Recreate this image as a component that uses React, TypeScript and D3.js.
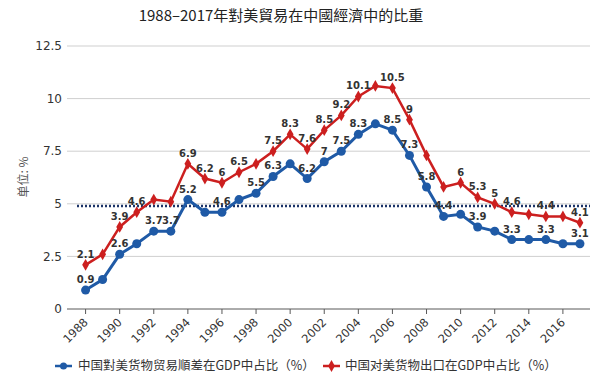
import React from 'react';
import * as d3 from 'd3';

const W = 600;
const H = 385;

const years = d3.range(1988, 2018);
// 中国對美货物贸易順差在GDP中占比
const surplus = [0.9, 1.4, 2.6, 3.1, 3.7, 3.7, 5.2, 4.6, 4.6, 5.2, 5.5, 6.3, 6.9, 6.2, 7, 7.5, 8.3, 8.8, 8.5, 7.3, 5.8, 4.4, 4.5, 3.9, 3.7, 3.3, 3.3, 3.3, 3.1, 3.1];
// 中国对美货物出口在GDP中占比
const exports = [2.1, 2.6, 3.9, 4.6, 5.2, 5.1, 6.9, 6.2, 6, 6.5, 6.9, 7.5, 8.3, 7.6, 8.5, 9.2, 10.1, 10.6, 10.5, 9, 7.3, 5.8, 6, 5.3, 5, 4.6, 4.5, 4.4, 4.4, 4.1];
const surplusLabelYears = [1988, 1990, 1992, 1993, 1994, 1996, 1998, 1999, 2001, 2002, 2003, 2004, 2006, 2007, 2008, 2009, 2011, 2013, 2015, 2017];
const exportLabelYears = [1988, 1990, 1991, 1994, 1995, 1996, 1997, 1999, 2000, 2001, 2002, 2003, 2004, 2006, 2007, 2010, 2011, 2012, 2013, 2015, 2017];
const yTicks = [0, 2.5, 5, 7.5, 10, 12.5];
const xTicks = d3.range(1988, 2017, 2);
const refLine = 4.9;

const BLUE = '#1f5aa6';
const RED = '#cc1f1f';
const NUM_FONT = '"DejaVu Sans", sans-serif';
const CJK_FONT = '"Noto Sans CJK SC", sans-serif';

const App = () => {
    const x = d3.scaleLinear().domain([1986.91, 2017.59]).range([67, 590]);
    const y = d3.scaleLinear().domain([0, 12.5]).range([309, 46]);

    const line = d3.line<number>()
        .x((_, i) => x(years[i]))
        .y(d => y(d));

    const diamond = d3.symbol().type(d3.symbolDiamond).size(40)();

    const labels = (vals: number[], ys: number[]) =>
        ys.map(yr => {
            const i = years.indexOf(yr);
            return (
                <text key={yr} x={x(yr)} y={y(vals[i]) - 7} textAnchor="middle"
                      fontFamily={NUM_FONT} fontSize={10} fontWeight="bold" fill="#333">
                    {String(vals[i])}
                </text>
            );
        });

    return (
        <svg width={W} height={H} style={{position: 'absolute', left: 0, top: 0, background: '#fff'}}>
            <text x={281} y={21} textAnchor="middle" fontFamily='"Noto Sans CJK TC", sans-serif'
                  fontSize={15} fill="#222">1988–2017年對美貿易在中國經濟中的比重</text>

            {/* grid + y labels */}
            {yTicks.map(t => (
                <g key={t}>
                    {t > 0 && <line x1={67} x2={590} y1={y(t)} y2={y(t)} stroke="#cfcfcf" strokeWidth={1}/>}
                    <text x={62} y={y(t)} dy="0.35em" textAnchor="end" fontFamily={NUM_FONT}
                          fontSize={12} fill="#333">{String(t)}</text>
                </g>
            ))}
            <text transform="translate(28,177) rotate(-90)" textAnchor="middle" fontFamily={CJK_FONT}
                  fontSize={12} fill="#555">单位: %</text>

            {/* x axis */}
            <line x1={67} x2={590} y1={y(0)} y2={y(0)} stroke="#595959" strokeWidth={1}/>
            {xTicks.map(t => (
                <g key={t}>
                    <line x1={x(t)} x2={x(t)} y1={y(0)} y2={y(0) + 5} stroke="#595959"/>
                    <text transform={`translate(${x(t) + 3},${y(0) + 14}) rotate(-45)`} textAnchor="end"
                          fontFamily={NUM_FONT} fontSize={11.5} fill="#333">{t}</text>
                </g>
            ))}

            {/* reference dotted line */}
            <line x1={77} x2={590} y1={y(refLine)} y2={y(refLine)} stroke="#1c3468" strokeWidth={2.5}
                  strokeDasharray="2,2"/>

            {/* series */}
            <path d={line(exports) || ''} fill="none" stroke={RED} strokeWidth={2.5}/>
            {exports.map((v, i) => (
                <path key={i} d={diamond || ''} transform={`translate(${x(years[i])},${y(v)})`} fill={RED}/>
            ))}
            <path d={line(surplus) || ''} fill="none" stroke={BLUE} strokeWidth={3}/>
            {surplus.map((v, i) => (
                <circle key={i} cx={x(years[i])} cy={y(v)} r={4.5} fill={BLUE}/>
            ))}

            {labels(exports, exportLabelYears)}
            {labels(surplus, surplusLabelYears)}

            {/* legend */}
            <line x1={55} x2={72} y1={366} y2={366} stroke={BLUE} strokeWidth={2.5}/>
            <circle cx={63.5} cy={366} r={3.5} fill={BLUE}/>
            <text x={78} y={366} dy="0.35em" fontFamily={CJK_FONT} fontSize={12.5} fill="#333">
                中国對美货物贸易順差在GDP中占比（%）
            </text>
            <line x1={323} x2={340} y1={366} y2={366} stroke={RED} strokeWidth={2.5}/>
            <path d={diamond || ''} transform="translate(331.5,366)" fill={RED}/>
            <text x={345} y={366} dy="0.35em" fontFamily={CJK_FONT} fontSize={12.5} fill="#333">
                中国对美货物出口在GDP中占比（%）
            </text>
        </svg>
    );
};

export default App;
